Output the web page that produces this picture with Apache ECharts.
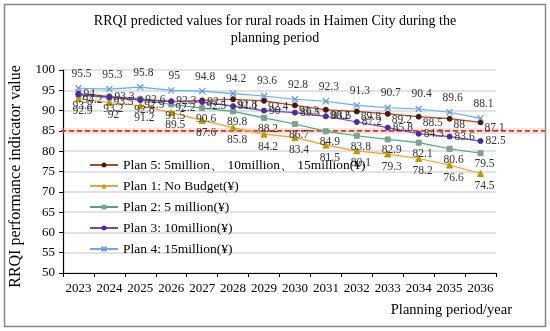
<!DOCTYPE html>
<html><head><meta charset="utf-8">
<script src="https://cdn.jsdelivr.net/npm/echarts@6/dist/echarts.min.js"></script>
<style>html,body{margin:0;padding:0;background:#fff}#c{width:550px;height:331px}</style>
</head><body><div id="c"></div>
<script>
const years = ['2023','2024','2025','2026','2027','2028','2029','2030','2031','2032','2033','2034','2035','2036'];
const plan5 = [94.2, 93.5, 92.9, 92.2, 92.5, 92.8, 92.4, 91.3, 90.2, 89.8, 89.2, 88.5, 88, 87.1];
const plan1 = [92.9, 92, 91.2, 89.5, 87.6, 85.8, 84.2, 83.4, 81.5, 80.1, 79.3, 78.2, 76.6, 74.5];
const plan2 = [93.8, 93.2, 92.8, 91.5, 90.6, 89.8, 88.2, 86.7, 84.9, 83.8, 82.9, 82.1, 80.6, 79.5];
const plan3 = [94.0, 93.3, 92.6, 92.3, 92.1, 91.1, 90, 89.5, 88.6, 87.2, 85.8, 84.3, 83.6, 82.5];
const plan4 = [95.5, 95.3, 95.8, 95, 94.8, 94.2, 93.6, 92.8, 92.3, 91.3, 90.7, 90.4, 89.6, 88.1];
const threshold = 85;
const names = ['Plan 5: 5million\u3001 10million\u3001 15million(\u00A5)', 'Plan 1: No Budget(\u00A5)', 'Plan 2: 5 million(\u00A5)', 'Plan 3: 10million(\u00A5)', 'Plan 4: 15million(\u00A5)'];

const F = '"Liberation Serif","Times New Roman",serif';
const chart = echarts.init(document.getElementById('c'));
function ser(name, data, color, mcolor, symbol, size, pos, off, glow) {
  return {
    name, type: 'line', data, symbol, symbolSize: size,
    lineStyle: {color, width: 1.2, shadowColor: glow, shadowBlur: 4},
    itemStyle: {color: mcolor, borderColor: mcolor},
    label: {show: true, position: pos, offset: off, fontFamily: F, fontSize: 11.5, color: '#333', distance: 3},
    z: 3
  };
}
const frame = [
  {type: 'rect', shape: {x: 4.5, y: 4.5, width: 541, height: 322}, style: {fill: 'none', stroke: '#888', lineWidth: 1.5}, z: 0},
  {type: 'text', right: 38, top: 303, style: {text: 'Planning period/year', fontFamily: F, fontSize: 14.5, fill: '#000'}}
];
chart.setOption({
  animation: false,
  title: {
    text: 'RRQI predicted values for rural roads in Haimen City during the\nplanning period',
    left: 'center', top: 8,
    textStyle: {fontFamily: F, fontSize: 14, fontWeight: 'normal', color: '#000', lineHeight: 17}
  },
  grid: {left: 60, right: 54, top: 70, bottom: 58},
  legend: {
    orient: 'vertical', left: 84, top: 153, itemGap: 7, itemWidth: 28, itemHeight: 6,
    textStyle: {fontFamily: F, fontSize: 13.5, color: '#000'},
    data: names
  },
  xAxis: {
    type: 'category', data: years, boundaryGap: true,
    axisLine: {lineStyle: {color: '#000', width: 1.2}},
    axisTick: {show: true, alignWithLabel: false, length: 4, lineStyle: {color: '#000'}},
    axisLabel: {fontFamily: F, fontSize: 13, color: '#000', margin: 9, interval: 0}
  },
  yAxis: {
    type: 'value', min: 50, max: 100, interval: 5,
    name: 'RRQI performance indicator value', nameLocation: 'middle', nameGap: 39,
    nameTextStyle: {fontFamily: F, fontSize: 16, color: '#000', padding: [0, 0, 0, -10]},
    axisLine: {show: true, lineStyle: {color: '#000', width: 1.2}},
    axisTick: {show: true, length: 4, lineStyle: {color: '#000'}},
    axisLabel: {fontFamily: F, fontSize: 13, color: '#000', margin: 8},
    splitLine: {lineStyle: {color: '#d9d9d9', width: 1.5}}
  },
  series: [
    ser(names[0], plan5, '#a0522d', '#4a1a0a', 'circle', 5, 'right', [-2, 6], 'rgba(255,160,160,0.5)'),
    ser(names[1], plan1, '#e0a83a', '#b8980c', 'triangle', 6, 'bottom', [4, 0], 'rgba(255,170,170,0.6)'),
    ser(names[2], plan2, '#5f9f80', '#7f9f8f', 'rect', 5, 'bottom', [4, -1], 'rgba(150,240,210,0.6)'),
    ser(names[3], plan3, '#7048b0', '#4b2a9a', 'circle', 5, 'right', [-1, 0], 'rgba(200,170,255,0.5)'),
    Object.assign(ser(names[4], plan4, '#7aa6e0', '#7aa6e0', 'path://M0,0L10,10M10,0L0,10', 6, 'top', [3, 0], 'rgba(150,240,255,0.7)'),
      {itemStyle: {color: 'none', borderColor: '#6a96e0', borderWidth: 1.2}})
  ],
  graphic: frame
});
const yy = chart.convertToPixel({yAxisIndex: 0}, threshold);
chart.setOption({graphic: frame.concat([
  {type: 'line', shape: {x1: 61, y1: yy, x2: 545, y2: yy}, style: {stroke: 'rgba(255,170,180,0.35)', lineWidth: 6}, z: 1},
  {type: 'line', shape: {x1: 61, y1: yy, x2: 545, y2: yy}, style: {stroke: '#b8481c', lineWidth: 1.6, lineDash: [5, 3]}, z: 2}
])});
</script></body></html>
